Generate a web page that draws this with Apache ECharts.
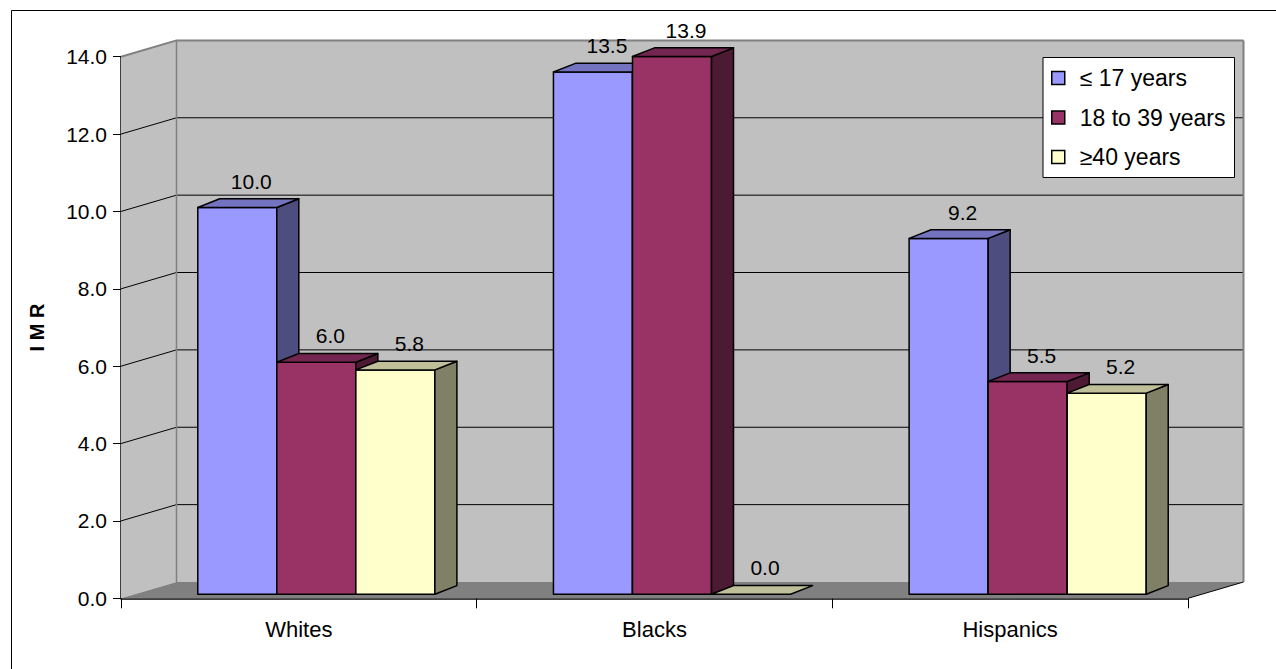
<!DOCTYPE html>
<html>
<head>
<meta charset="utf-8">
<script src="https://cdn.jsdelivr.net/npm/echarts@6/dist/echarts.min.js"></script>
<style>
  html, body { margin: 0; padding: 0; background: #ffffff; }
  #chart { width: 1276px; height: 669px; }
</style>
</head>
<body>
<div id="chart"></div>
<script>
// Infant mortality rate by maternal age group
const categories = ['Whites', 'Blacks', 'Hispanics'];
const seriesNames = ['≤ 17 years', '18 to 39 years', '≥40 years'];
const under17 = [10.0, 13.5, 9.2];
const age18to39 = [6.0, 13.9, 5.5];
const age40plus = [5.8, 0.0, 5.2];
const yTicks = [0, 2, 4, 6, 8, 10, 12, 14];

const FONT = '"Liberation Sans", Arial, sans-serif';

// Oblique projection used for the box walls and the column depth
const BOX_DX = 55.5, BOX_DY = -16.3;   // depth of the whole plot box
const FACE_DX = 17.5, FACE_DY = -4;    // columns' front face, set back from the front plane
const COL_DX = 22, COL_DY = -8.7;      // depth of each column

const palette = [
  { front: '#9999ff', top: '#7373bf', side: '#4d4d80' },
  { front: '#993366', top: '#732650', side: '#4d1a33' },
  { front: '#ffffcc', top: '#bfbf99', side: '#808066' }
];

function renderBackdrop(params, api) {
  const cs = params.coordSys;
  const x0 = cs.x, x1 = cs.x + cs.width;
  const yt = cs.y, yb = cs.y + cs.height;
  const children = [];
  // back wall
  children.push({ type: 'polygon', shape: { points: [[x0 + BOX_DX, yt + BOX_DY], [x1 + BOX_DX, yt + BOX_DY], [x1 + BOX_DX, yb + BOX_DY], [x0 + BOX_DX, yb + BOX_DY]] }, style: { fill: '#c0c0c0' } });
  // side wall
  children.push({ type: 'polygon', shape: { points: [[x0, yt], [x0 + BOX_DX, yt + BOX_DY], [x0 + BOX_DX, yb + BOX_DY], [x0, yb]] }, style: { fill: '#c0c0c0' } });
  // floor
  children.push({ type: 'polygon', shape: { points: [[x0, yb], [x0 + BOX_DX, yb + BOX_DY], [x1 + BOX_DX, yb + BOX_DY], [x1, yb]] }, style: { fill: '#808080' } });
  // gridlines across side wall and back wall
  const maxTick = yTicks[yTicks.length - 1];
  yTicks.forEach(function (t) {
    if (t === 0) return;
    const y = api.coord([0, t])[1];
    const edge = t === maxTick;
    children.push({ type: 'polyline', shape: { points: [[x0, y], [x0 + BOX_DX, y + BOX_DY], [x1 + BOX_DX, y + BOX_DY]] },
      style: { fill: null, stroke: edge ? '#808080' : '#000000', lineWidth: edge ? 2 : 1 } });
  });
  // wall corner and right edge
  children.push({ type: 'line', shape: { x1: x0 + BOX_DX, y1: yt + BOX_DY, x2: x0 + BOX_DX, y2: yb + BOX_DY }, style: { stroke: '#808080', lineWidth: 1.5 } });
  children.push({ type: 'line', shape: { x1: x1 + BOX_DX, y1: yt + BOX_DY, x2: x1 + BOX_DX, y2: yb + BOX_DY }, style: { stroke: '#808080', lineWidth: 2 } });
  // floor right edge
  children.push({ type: 'line', shape: { x1: x1, y1: yb, x2: x1 + BOX_DX, y2: yb + BOX_DY }, style: { stroke: '#000000', lineWidth: 1 } });
  return { type: 'group', children: children };
}

function makeColumnSeries(idx, values) {
  const col = palette[idx];
  return {
    type: 'custom',
    name: seriesNames[idx],
    clip: false,
    z: 3 + idx,
    itemStyle: { color: col.front, borderColor: '#000', borderWidth: 1.5 },
    encode: { x: 0, y: 1 },
    data: values.map(function (v, i) { return [i, v]; }),
    renderItem: function (params, api) {
      const c = api.value(0), v = api.value(1);
      const base = api.coord([c, 0]);
      const top = api.coord([c, v]);
      const bw = api.size([1, 0])[0] / 4.5;
      const xl = base[0] - 1.5 * bw + idx * bw + FACE_DX;
      const xr = xl + bw;
      const yb = base[1] + FACE_DY;
      const yt = top[1] + FACE_DY;
      const stroke = { stroke: '#000', lineWidth: 1.5, lineJoin: 'round' };
      const children = [];
      if (yb - yt > 0.5) {
        children.push({ type: 'polygon', shape: { points: [[xl, yt], [xr, yt], [xr, yb], [xl, yb]] }, style: Object.assign({ fill: col.front }, stroke) });
        children.push({ type: 'polygon', shape: { points: [[xr, yt], [xr + COL_DX, yt + COL_DY], [xr + COL_DX, yb + COL_DY], [xr, yb]] }, style: Object.assign({ fill: col.side }, stroke) });
      }
      children.push({ type: 'polygon', shape: { points: [[xl, yt], [xr, yt], [xr + COL_DX, yt + COL_DY], [xl + COL_DX, yt + COL_DY]] }, style: Object.assign({ fill: col.top }, stroke) });
      children.push({ type: 'text', z2: 10, style: {
        text: v.toFixed(1), x: (xl + xr) / 2 + COL_DX / 2 + 3, y: yt + COL_DY / 2 - 22,
        align: 'center', verticalAlign: 'middle', fill: '#000', font: '21px ' + FONT } });
      return { type: 'group', children: children };
    }
  };
}

const chart = echarts.init(document.getElementById('chart'), null, { renderer: 'svg' });
chart.setOption({
  animation: false,
  backgroundColor: '#ffffff',
  textStyle: { fontFamily: FONT },
  graphic: [{
    type: 'rect', left: 9, top: 8, silent: true, z: 0,
    shape: { width: 1400, height: 800 },
    style: { fill: null, stroke: '#000', lineWidth: 1 }
  }],
  grid: { left: 121, right: 88, top: 56.7, bottom: 70.7 },
  legend: {
    orient: 'vertical', left: 1043, top: 57.5, selectedMode: false,
    itemWidth: 13, itemHeight: 13, itemGap: 16.5,
    padding: [9, 9, 9, 8],
    backgroundColor: '#ffffff', borderColor: '#000', borderWidth: 1,
    textStyle: { fontSize: 23, color: '#000', fontFamily: FONT, padding: [0, 0, 0, 10] },
    data: seriesNames.map(function (n, i) {
      return { name: n, icon: 'rect', itemStyle: { color: palette[i].front, borderColor: '#000', borderWidth: 1.5 } };
    })
  },
  xAxis: {
    type: 'category', data: categories,
    axisLine: { show: true, lineStyle: { color: '#000', width: 1.5 } },
    axisTick: { show: true, interval: 0, length: 10, lineStyle: { color: '#000', width: 1 } },
    axisLabel: { fontSize: 22, color: '#000', margin: 20, fontFamily: FONT },
    splitLine: { show: false }
  },
  yAxis: {
    type: 'value', min: 0, max: 14, interval: 2,
    name: 'I M R', nameLocation: 'middle', nameGap: 74,
    nameTextStyle: { fontSize: 20, fontWeight: 'bold', color: '#000', fontFamily: FONT },
    axisLine: { show: true, lineStyle: { color: '#000', width: 1.5 } },
    axisTick: { show: true, length: 8, lineStyle: { color: '#000', width: 1 } },
    axisLabel: { fontSize: 21, color: '#000', margin: 14, fontFamily: FONT, formatter: function (v) { return v.toFixed(1); } },
    splitLine: { show: false }
  },
  series: [
    { type: 'custom', name: 'backdrop', silent: true, clip: false, z: 1, data: [[0, 0]], encode: { x: 0, y: 1 }, renderItem: renderBackdrop },
    makeColumnSeries(0, under17),
    makeColumnSeries(1, age18to39),
    makeColumnSeries(2, age40plus)
  ]
});
</script>
</body>
</html>
